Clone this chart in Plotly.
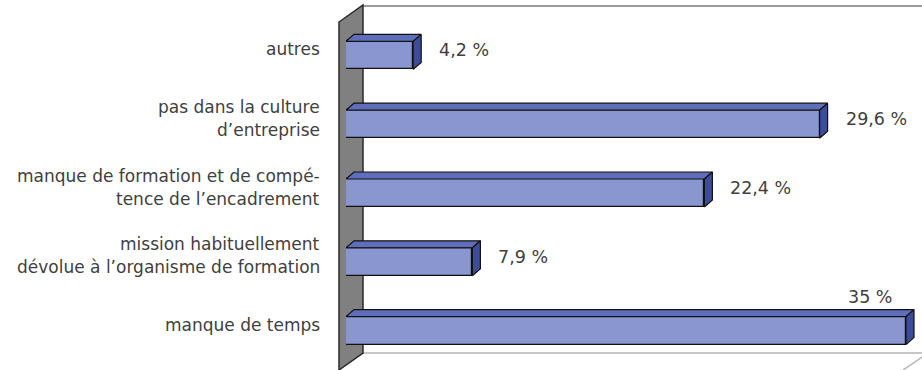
import plotly.graph_objects as go

# ---- data ----
categories = [
    "manque de temps",
    "mission habituellement\ndévolue à l’organisme de formation",
    "manque de formation et de compé-\ntence de l’encadrement",
    "pas dans la culture\nd’entreprise",
    "autres",
]
values = [35, 7.9, 22.4, 29.6, 4.2]
value_labels = ["35 %", "7,9 %", "22,4 %", "29,6 %", "4,2 %"]

# ---- geometry / style ----
W, H = 922, 370
ML, MR, MT, MB = 346, 0, 21, 5
XMAX = 36.0
PW, PH = W - ML - MR, H - MT - MB
px_per_x = PW / XMAX
px_per_y = PH / 5.0
bar_w = 28 / px_per_y
dx = 8 / px_per_x
dy = 7 / px_per_y

FRONT = "#8a96d0"
TOP = "#5e6ebb"
SIDE = "#3d4c98"
FONT = "DejaVu Sans"
TXT = "#404040"

ys = list(range(len(categories)))

fig = go.Figure()
fig.add_trace(go.Bar(
    x=values, y=ys, orientation="h", width=bar_w,
    marker=dict(color=FRONT, line=dict(color="#111111", width=1.2)),
    hoverinfo="skip",
))

for v, y in zip(values, ys):
    y0, y1 = y - bar_w / 2, y + bar_w / 2
    # top face
    fig.add_trace(go.Scatter(
        x=[0, v, v + dx, dx, 0], y=[y1, y1, y1 + dy, y1 + dy, y1],
        mode="lines", fill="toself", fillcolor=TOP,
        line=dict(color="#111111", width=1.2), hoverinfo="skip"))
    # side face
    fig.add_trace(go.Scatter(
        x=[v, v + dx, v + dx, v, v], y=[y0, y0 + dy, y1 + dy, y1, y0],
        mode="lines", fill="toself", fillcolor=SIDE,
        line=dict(color="#111111", width=1.2), hoverinfo="skip"))


def P(px, py):
    return (px - ML) / PW, (H - MB - py) / PH


def path(points):
    s = ""
    for i, (a, b) in enumerate(points):
        x, y = P(a, b)
        s += ("M" if i == 0 else "L") + f"{x:.5f},{y:.5f} "
    return s + "Z"


shapes = []
# back wall (white) with edges
shapes.append(dict(type="path", xref="paper", yref="paper", layer="below",
                   path=path([(363, 6), (930, 6), (930, 353), (363, 353)]),
                   fillcolor="white", line=dict(width=0)))
x0, y0 = P(363, 6); x1, _ = P(930, 6)
shapes.append(dict(type="line", xref="paper", yref="paper", layer="below",
                   x0=x0, y0=y0, x1=x1, y1=y0, line=dict(color="#9a9a9a", width=2)))
x0, y0 = P(363, 353); x1, _ = P(930, 353)
shapes.append(dict(type="line", xref="paper", yref="paper", layer="below",
                   x0=x0, y0=y0, x1=x1, y1=y0, line=dict(color="#b5b5b5", width=1.5)))
xa, ya = P(928, 353); xb, yb = P(903, 370)
shapes.append(dict(type="line", xref="paper", yref="paper", layer="below",
                   x0=xa, y0=ya, x1=xb, y1=yb, line=dict(color="#b5b5b5", width=1.5)))
# left wall (grey)
shapes.append(dict(type="path", xref="paper", yref="paper", layer="below",
                   path=path([(339, 22), (363, 5), (363, 353), (339, 370)]),
                   fillcolor="#808080", line=dict(color="#2a2a2a", width=1.5)))

annotations = []
for lab, y in zip(categories, ys):
    lines = lab.split("\n")
    n = len(lines)
    for i, ln in enumerate(lines):
        off = (i - (n - 1) / 2) * 23
        annotations.append(dict(
            x=(322 - ML) / PW, xref="paper", y=y, yref="y",
            text=ln, showarrow=False, xanchor="right", yanchor="middle",
            yshift=6 - off, font=dict(family=FONT, size=17, color=TXT)))

for v, y, t in zip(values, ys, value_labels):
    if v + 4 > XMAX:
        annotations.append(dict(x=v, y=y, xref="x", yref="y", text=t, showarrow=False,
                                xanchor="right", yanchor="middle", xshift=-12, yshift=34,
                                font=dict(family=FONT, size=17.5, color=TXT)))
    else:
        annotations.append(dict(x=v, y=y, xref="x", yref="y", text=t, showarrow=False,
                                xanchor="left", yanchor="middle", xshift=24, yshift=5,
                                font=dict(family=FONT, size=17.5, color=TXT)))

fig.update_layout(
    width=W, height=H,
    margin=dict(l=ML, r=MR, t=MT, b=MB, pad=0),
    paper_bgcolor="white", plot_bgcolor="rgba(0,0,0,0)",
    showlegend=False,
    xaxis=dict(range=[0, XMAX], visible=False, fixedrange=True),
    yaxis=dict(range=[-0.5, 4.5], visible=False, fixedrange=True),
    shapes=shapes, annotations=annotations,
    bargap=0,
)
fig.write_html("out.html", config={"displayModeBar": False})
